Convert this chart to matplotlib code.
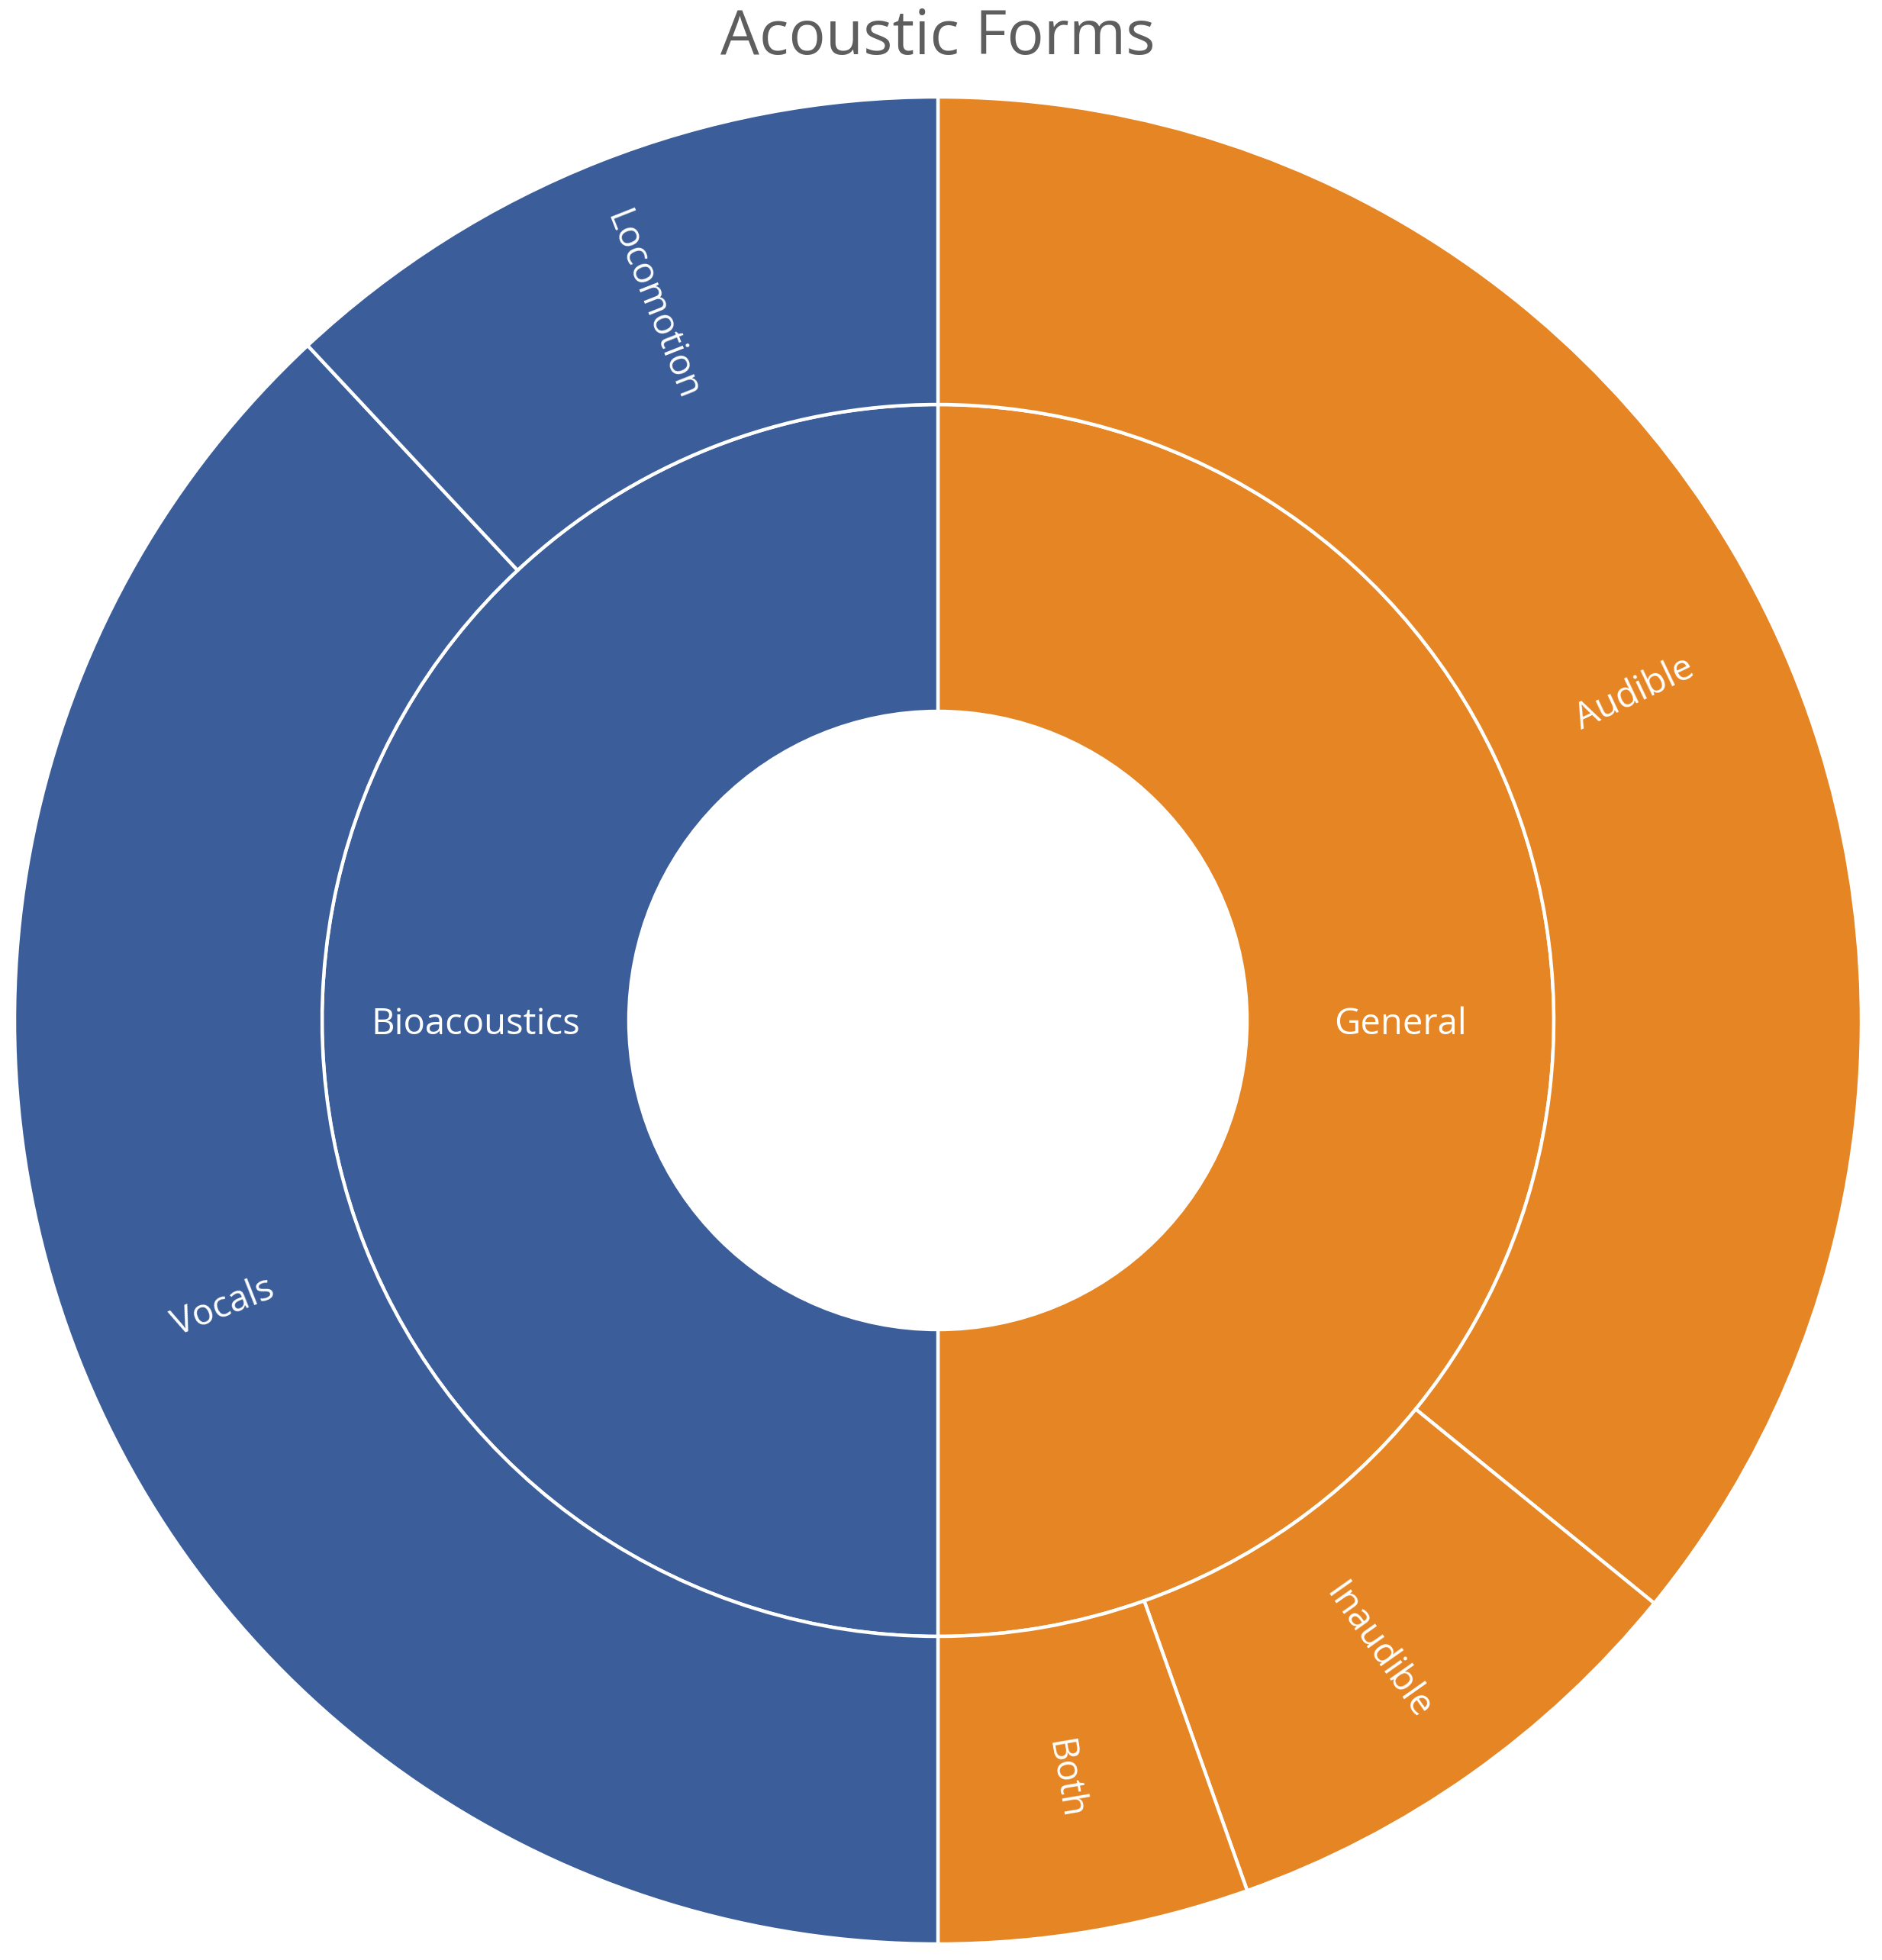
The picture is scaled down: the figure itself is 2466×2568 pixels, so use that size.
import numpy as np
import matplotlib
matplotlib.use("Agg")
import matplotlib.pyplot as plt

# ---- data ----
title = "Acoustic Forms"
inner_labels = ["General", "Bioacoustics"]
inner_values = [46, 46]
outer_labels = ["Audible", "Inaudible", "Both", "Vocals", "Locomotion"]
outer_values = [33, 8, 5, 35, 11]
outer_parent = [0, 0, 0, 1, 1]

colors = ["#E58524", "#3B5E9A"]

W, H = 2466, 2568
DPI = 100
fig = plt.figure(figsize=(W / DPI, H / DPI), dpi=DPI)
ax = fig.add_axes([0, 0, 1, 1])

cx, cy = 1229, H - 1337
R_out, R_mid, R_hole = 1210, 807, 405

plt.rcParams['font.family'] = ['Open Sans', 'DejaVu Sans']

edge = dict(edgecolor="white", linewidth=3.2)
w_in, _ = ax.pie(inner_values, radius=R_mid, center=(cx, cy), startangle=90,
                 counterclock=False, colors=colors,
                 wedgeprops=dict(width=R_mid - R_hole, **edge))
w_out, _ = ax.pie(outer_values, radius=R_out, center=(cx, cy), startangle=90,
                  counterclock=False,
                  colors=[colors[p] for p in outer_parent],
                  wedgeprops=dict(width=R_out - R_mid, **edge))


def put_labels(wedges, labels, r, fs):
    for w, lab in zip(wedges, labels):
        mid = 0.5 * (w.theta1 + w.theta2)
        a = np.deg2rad(mid)
        x = cx + r * np.cos(a)
        y = cy + r * np.sin(a)
        rot = (mid + 180) % 360 - 180
        if rot > 90:
            rot -= 180
        elif rot <= -90:
            rot += 180
        ax.text(x, y, lab, color="white", fontsize=fs, rotation=rot,
                rotation_mode="anchor", ha="center", va="center_baseline")


put_labels(w_in, inner_labels, (R_mid + R_hole) / 2, 34)
put_labels(w_out, outer_labels, (R_out + R_mid) / 2, 34)

ax.text(cx, H - 50, title, color="#5E5E5E", fontsize=58, ha="center",
        va="center")

ax.set_xlim(0, W)
ax.set_ylim(0, H)
ax.set_aspect("auto")
ax.axis("off")

fig.savefig("out.png", dpi=DPI, facecolor="white")
